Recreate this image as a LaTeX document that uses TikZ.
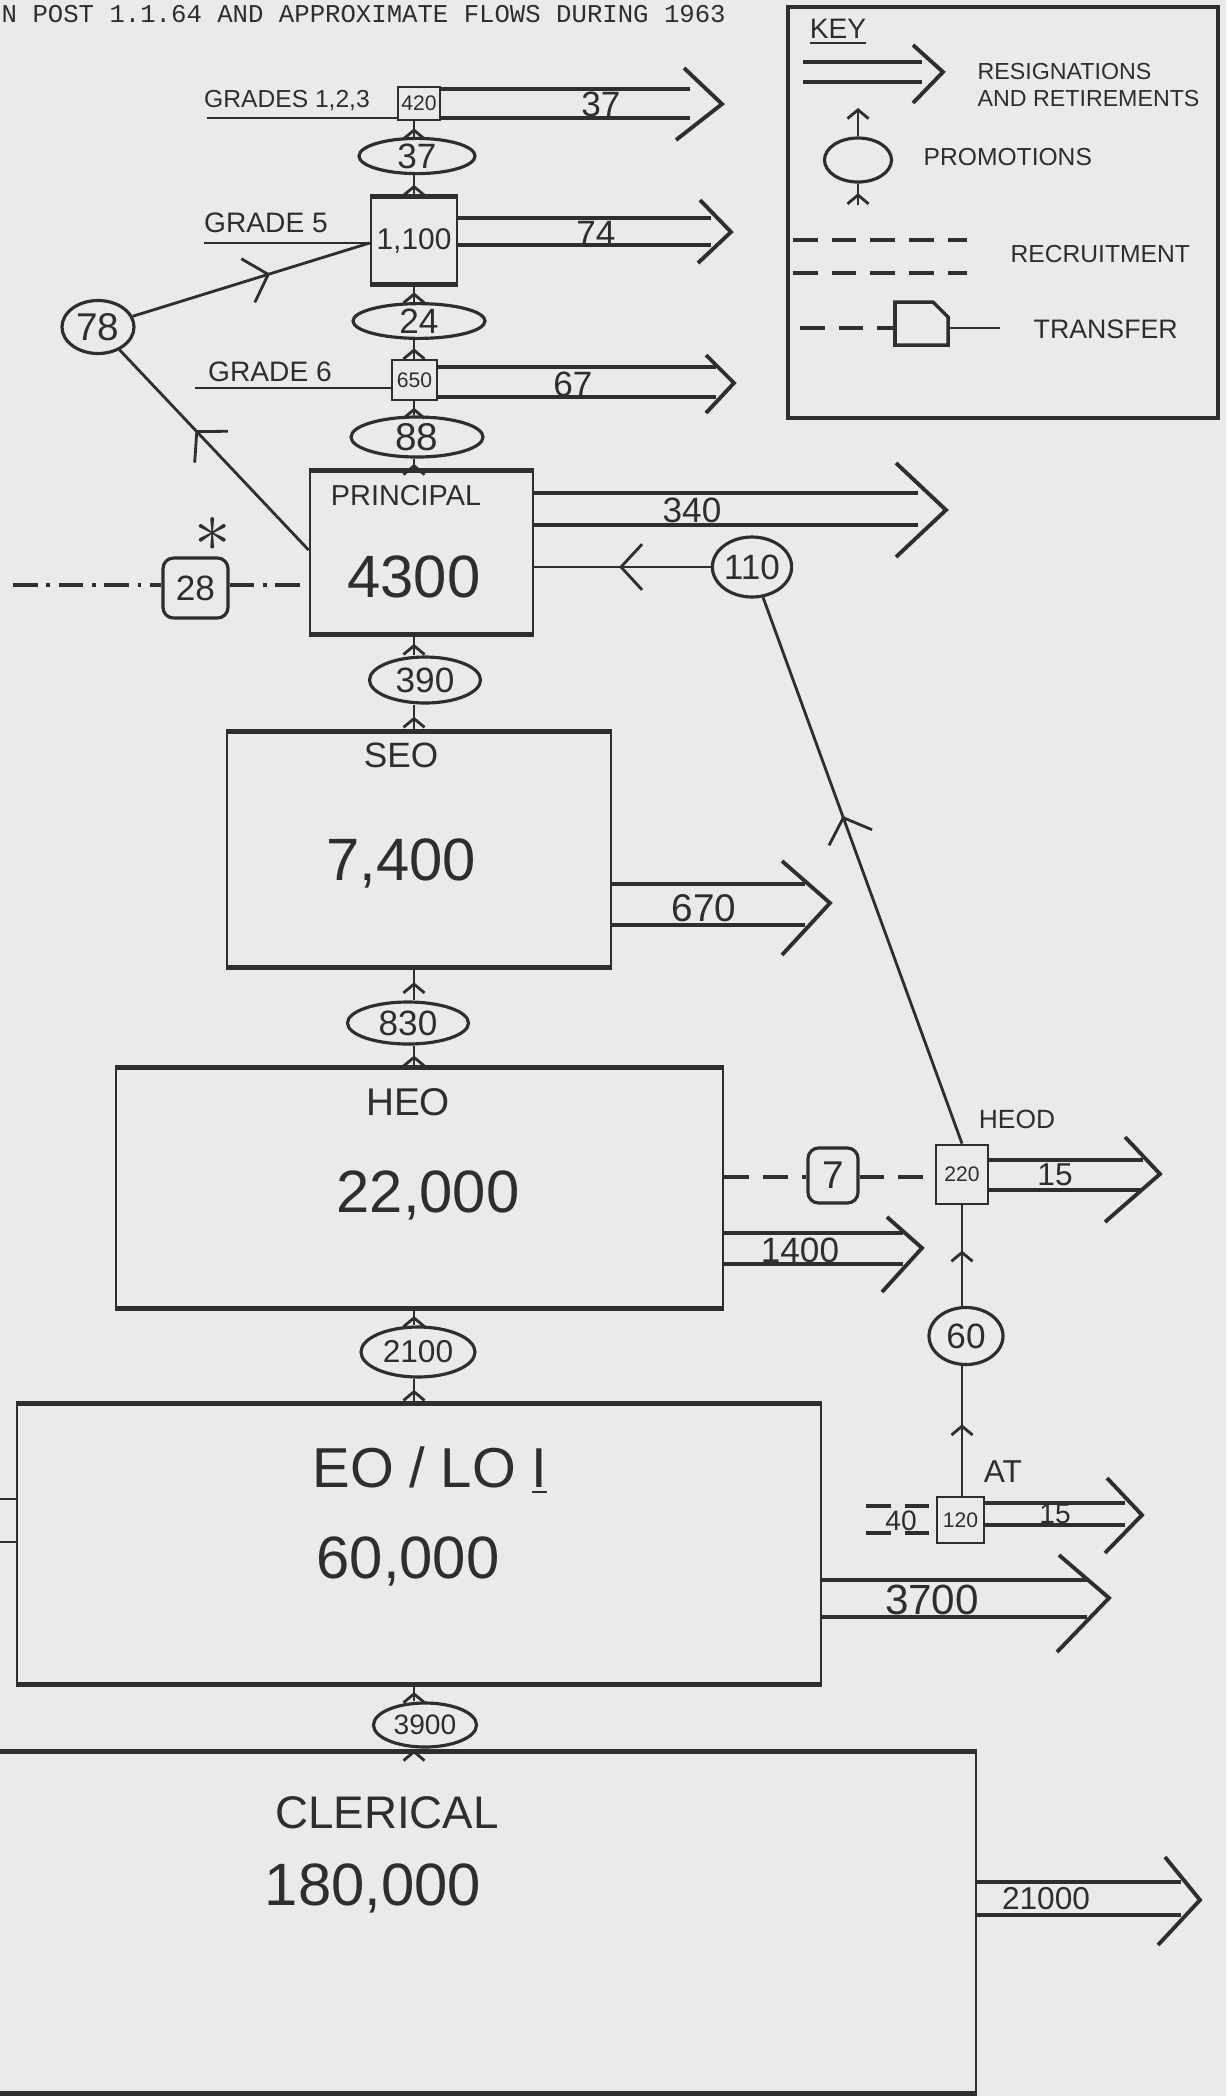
\documentclass[tikz,border=0pt]{standalone}
\usepackage{fontspec}
\setmainfont{Liberation Sans}
\newfontfamily\typewriter{Liberation Mono}
\usetikzlibrary{arrows.meta, shapes.geometric, decorations.markings, calc}
\definecolor{paper}{HTML}{EAEAEA}
\definecolor{ink}{HTML}{2E2E2E}
\newdimen\pxu \pxu=0.01cm

\begin{document}
\begin{tikzpicture}[x=0.01cm, y=-0.01cm, color=ink,
   box/.style={draw, line width=0.8pt, inner sep=0pt},
   promo/.style={draw, ellipse, line width=0.9pt, inner sep=0pt},
   tbox/.style={draw, rounded corners=3pt, line width=0.9pt, inner sep=0pt},
   hand/.style={inner sep=0pt},
   rise/.style={line width=0.8pt, postaction={decorate},
      decoration={markings, mark=at position 0.55 with {\arrow{Straight Barb[length=2.5pt,width=6pt]}}}},
   flowline/.style={line width=0.8pt, postaction={decorate},
      decoration={markings, mark=at position #1 with {\arrow{Straight Barb[length=6pt,width=13pt]}}}},
   resline/.style={line width=1.1pt},
   hbar/.style={line width=1.4pt},
   gline/.style={line width=0.8pt},
   recruit/.style={line width=0.9pt, dash pattern=on 7pt off 4pt},
   transfer/.style={line width=0.9pt, dash pattern=on 7pt off 2.5pt on 1pt off 2.5pt}]
   % Sheet
   \fill[paper] (0,0) rectangle (1226,2096);
   \useasboundingbox (0,0) rectangle (1226,2096);
   % Title line
   \node[hand, anchor=base west, font=\typewriter\fontsize{7.3}{9}\selectfont] (title) at (1,22)
      {N POST 1.1.64 AND APPROXIMATE FLOWS DURING 1963};
   % Promotion columns
   \coordinate (col) at (414,0);
   \coordinate (hcol) at (962,0);

   % Grades 1,2,3
   \node[box, minimum width=42\pxu, minimum height=33\pxu, font=\fontsize{6}{7}\selectfont] (g123) at (419,103.5) {420};
   \node[hand, font=\fontsize{7}{8}\selectfont] (g123T) at (287,100) {GRADES 1,2,3};
   \draw[gline] (207,118) -- (g123.west |- 0,118);
   % Grade 5
   \node[box, minimum width=86\pxu, minimum height=85\pxu, font=\fontsize{8.5}{10}\selectfont] (g5) at (414,240.5) {1,100};
   \node[hand, font=\fontsize{8}{9}\selectfont] (g5T) at (266,223) {GRADE 5};
   \draw[gline] (204,243) -- (g5.west |- 0,243);
   % Grade 6
   \node[box, minimum width=45\pxu, minimum height=40\pxu, font=\fontsize{6}{7}\selectfont] (g6) at (414.5,380) {650};
   \node[hand, font=\fontsize{8}{9}\selectfont] (g6T) at (270,372) {GRADE 6};
   \draw[gline] (195,388) -- (g6.west |- 0,388);

   % Principal
   \node[box, minimum width=223\pxu, minimum height=161\pxu] (prin) at (421.5,552.5) {};
   \node[hand, anchor=base, font=\fontsize{8.2}{10}\selectfont] (prinT) at (406,505) {PRINCIPAL};
   \node[hand, anchor=base, font=\fontsize{17}{20}\selectfont] (prinN) at (414,597) {4300};
   % SEO
   \node[box, minimum width=384\pxu, minimum height=233\pxu] (seo) at (419,849.5) {};
   \node[hand, anchor=base, font=\fontsize{10}{12}\selectfont] (seoT) at (401,767) {SEO};
   \node[hand, anchor=base, font=\fontsize{17}{20}\selectfont] (seoN) at (401,880) {7,400};
   % HEO
   \node[box, minimum width=607\pxu, minimum height=238\pxu] (heo) at (419.5,1188) {};
   \node[hand, anchor=base, font=\fontsize{11}{13}\selectfont] (heoT) at (408,1115) {HEO};
   \node[hand, anchor=base, font=\fontsize{17}{20}\selectfont] (heoN) at (428,1212) {22,000};
   % EO / LO I
   \node[box, minimum width=804\pxu, minimum height=278\pxu] (eo) at (419,1544) {};
   \node[hand, anchor=base, font=\fontsize{16}{19}\selectfont] (eoT) at (430,1487) {EO / LO \underline{I}};
   \node[hand, anchor=base, font=\fontsize{17}{20}\selectfont] (eoN) at (408,1578) {60,000};
   \draw[gline] (0,1499) -- (eo.west |- 0,1499);
   \draw[gline] (0,1542) -- (eo.west |- 0,1542);
   % Clerical, left side off the sheet
   \node[box, minimum width=996\pxu, minimum height=339\pxu] (cler) at (478,1922.5) {};
   \node[hand, anchor=base, font=\fontsize{13}{15}\selectfont] (clerT) at (387,1828) {CLERICAL};
   \node[hand, anchor=base, font=\fontsize{17}{20}\selectfont] (clerN) at (373,1905) {180,000};
   % Heavy top and bottom edges
   \draw[hbar] (g5.north west) -- (g5.north east) (g5.south west) -- (g5.south east);
   \draw[hbar] (prin.north west) -- (prin.north east) (prin.south west) -- (prin.south east);
   \draw[hbar] (seo.north west) -- (seo.north east) (seo.south west) -- (seo.south east);
   \draw[hbar] (heo.north west) -- (heo.north east) (heo.south west) -- (heo.south east);
   \draw[hbar] (eo.north west) -- (eo.north east) (eo.south west) -- (eo.south east);
   \draw[hbar] (cler.north west) -- (cler.north east) (cler.south west) -- (cler.south east);

   % HEOD and AT
   \node[box, minimum width=52\pxu, minimum height=59\pxu, font=\fontsize{6}{7}\selectfont] (heod) at (962,1174.5) {220};
   \node[hand, font=\fontsize{7.5}{9}\selectfont] (heodT) at (1017,1119) {HEOD};
   \node[box, minimum width=47\pxu, minimum height=46\pxu, font=\fontsize{6}{7}\selectfont] (atb) at (960.5,1520) {120};
   \node[hand, font=\fontsize{9}{11}\selectfont] (atT) at (1003,1472) {AT};

   % Promotions
   \node[promo, minimum width=116\pxu, minimum height=32\pxu, font=\fontsize{10}{12}\selectfont] (p37) at (417,156) {37};
   \node[promo, minimum width=132\pxu, minimum height=28\pxu, font=\fontsize{10}{12}\selectfont] (p24) at (419,321) {24};
   \node[promo, minimum width=132\pxu, minimum height=40\pxu, font=\fontsize{11}{13}\selectfont] (p88) at (417,437) {88};
   \node[promo, minimum width=111\pxu, minimum height=46\pxu, font=\fontsize{10}{12}\selectfont] (p390) at (425,680) {390};
   \node[promo, minimum width=121\pxu, minimum height=42\pxu, font=\fontsize{10}{12}\selectfont] (p830) at (408,1023) {830};
   \node[promo, minimum width=114\pxu, minimum height=50\pxu, font=\fontsize{9}{11}\selectfont] (p2100) at (418,1352) {2100};
   \node[promo, minimum width=103\pxu, minimum height=44\pxu, font=\fontsize{8}{10}\selectfont] (p3900) at (425,1725) {3900};
   \node[promo, minimum width=72\pxu, minimum height=53\pxu, font=\fontsize{11}{13}\selectfont] (p78) at (98,327) {78};
   \node[promo, minimum width=77\pxu, minimum height=60\pxu, font=\fontsize{10}{12}\selectfont] (p110) at (752,567) {110};
   \node[promo, minimum width=74\pxu, minimum height=57\pxu, font=\fontsize{10}{12}\selectfont] (p60) at (966,1336) {60};
   \draw[rise] (col |- g5.north) -- (col |- p37.south);
   \draw[rise] (col |- p37.north) -- (col |- g123.south);
   \draw[rise] (col |- g6.north) -- (col |- p24.south);
   \draw[rise] (col |- p24.north) -- (col |- g5.south);
   \draw[rise] (col |- prin.north) -- (col |- p88.south);
   \draw[rise] (col |- p88.north) -- (col |- g6.south);
   \draw[rise] (col |- seo.north) -- (col |- p390.south);
   \draw[rise] (col |- p390.north) -- (col |- prin.south);
   \draw[rise] (col |- heo.north) -- (col |- p830.south);
   \draw[rise] (col |- p830.north) -- (col |- seo.south);
   \draw[rise] (col |- eo.north) -- (col |- p2100.south);
   \draw[rise] (col |- p2100.north) -- (col |- heo.south);
   \draw[rise] (col |- cler.north) -- (col |- p3900.south);
   \draw[rise] (col |- p3900.north) -- (col |- eo.south);
   \draw[rise] (hcol |- atb.north) -- (hcol |- p60.south);
   \draw[rise] (hcol |- p60.north) -- (hcol |- heod.south);
   % Cross promotions
   \draw[flowline=0.6] (prin.west |- 0,550) -- (p78);
   \draw[flowline=0.58] (p78) -- (g5.west |- 0,243);
   \draw[flowline=0.52] (p110.west) -- (prin.east |- p110.west);
   \draw[flowline=0.6] (heod.north) -- (p110);

   % Transfers and recruitment
   \node[tbox, minimum width=65\pxu, minimum height=60\pxu, font=\fontsize{10}{12}\selectfont] (t28) at (195.5,588) {28};
   \node[hand, font=\fontsize{20}{24}\selectfont] (star) at (213,535) {$\ast$};
   \draw[transfer] (13,585) -- (t28.west |- 0,585);
   \draw[transfer] (t28.east |- 0,585) -- (prin.west |- 0,585);
   \node[tbox, minimum width=50\pxu, minimum height=55\pxu, font=\fontsize{11}{13}\selectfont] (t7) at (833,1175.5) {7};
   \draw[recruit] (heo.east |- 0,1177) -- (t7.west |- 0,1177);
   \draw[recruit] (t7.east |- 0,1177) -- (heod.west |- 0,1177);
   \node[hand, font=\fontsize{8}{10}\selectfont] (r40) at (901,1521) {40};
   \draw[recruit] (866,1506) -- (atb.west |- 0,1506);
   \draw[recruit] (866,1533) -- (atb.west |- 0,1533);

   % Resignations and retirements
   % 37 from grades 1,2,3
   \draw[resline] (g123.east |- 0,89) -- (690,89);
   \draw[resline] (g123.east |- 0,118) -- (690,118);
   \draw[resline] (684,68) -- (722,104) -- (676,140);
   \node[hand, font=\fontsize{10}{12}\selectfont] (o37) at (601,104) {37};
   % 74 from grade 5
   \draw[resline] (g5.east |- 0,218) -- (711,218);
   \draw[resline] (g5.east |- 0,245) -- (711,245);
   \draw[resline] (700,200) -- (731,232) -- (698,263);
   \node[hand, font=\fontsize{10}{12}\selectfont] (o74) at (596,233) {74};
   % 67 from grade 6
   \draw[resline] (g6.east |- 0,367) -- (716,367);
   \draw[resline] (g6.east |- 0,397) -- (716,397);
   \draw[resline] (706,355) -- (734,383) -- (706,413);
   \node[hand, font=\fontsize{10}{12}\selectfont] (o67) at (573,384) {67};
   % 340 from principal
   \draw[resline] (prin.east |- 0,493) -- (918,493);
   \draw[resline] (prin.east |- 0,525) -- (918,525);
   \draw[resline] (896,463) -- (946,510) -- (896,557);
   \node[hand, font=\fontsize{10}{12}\selectfont] (o340) at (692,510) {340};
   % 670 from SEO
   \draw[resline] (seo.east |- 0,884) -- (805,884);
   \draw[resline] (seo.east |- 0,925) -- (805,925);
   \draw[resline] (782,861) -- (830,903) -- (782,955);
   \node[hand, font=\fontsize{11}{13}\selectfont] (o670) at (704,908) {670};
   % 1400 from HEO
   \draw[resline] (heo.east |- 0,1233) -- (903,1233);
   \draw[resline] (heo.east |- 0,1264) -- (903,1264);
   \draw[resline] (887,1217) -- (922,1248) -- (882,1292);
   \node[hand, font=\fontsize{10}{12}\selectfont] (o1400) at (800,1250) {1400};
   % 15 from HEOD
   \draw[resline] (heod.east |- 0,1160) -- (1143,1160);
   \draw[resline] (heod.east |- 0,1190) -- (1143,1190);
   \draw[resline] (1125,1137) -- (1160,1174) -- (1105,1222);
   \node[hand, font=\fontsize{9}{11}\selectfont] (o15a) at (1055,1175) {15};
   % 15 from AT
   \draw[resline] (atb.east |- 0,1503) -- (1125,1503);
   \draw[resline] (atb.east |- 0,1525) -- (1125,1525);
   \draw[resline] (1107,1478) -- (1142,1515) -- (1105,1553);
   \node[hand, font=\fontsize{8}{10}\selectfont] (o15b) at (1055,1514) {15};
   % 3700 from EO / LO I
   \draw[resline] (eo.east |- 0,1580) -- (1087,1580);
   \draw[resline] (eo.east |- 0,1617) -- (1087,1617);
   \draw[resline] (1059,1555) -- (1109,1598) -- (1057,1652);
   \node[hand, font=\fontsize{12}{14}\selectfont] (o3700) at (932,1600) {3700};
   % 21000 from clerical
   \draw[resline] (cler.east |- 0,1882) -- (1181,1882);
   \draw[resline] (cler.east |- 0,1915) -- (1181,1915);
   \draw[resline] (1165,1857) -- (1200,1900) -- (1158,1945);
   \node[hand, font=\fontsize{9}{11}\selectfont] (o21000) at (1046,1899) {21000};

   % Key
   \node[box, line width=1pt, minimum width=430\pxu, minimum height=411\pxu] (key) at (1003,212.5) {};
   \node[hand, font=\fontsize{8}{10}\selectfont] (keyT) at (838,32) {\underline{KEY}};
   \draw[resline] (803,62) -- (922,62);
   \draw[resline] (803,82) -- (922,82);
   \draw[resline] (913,45) -- (943,72) -- (913,103);
   \node[hand, anchor=west, font=\fontsize{6.6}{8}\selectfont] (keyR1) at (977,72) {RESIGNATIONS};
   \node[hand, anchor=west, font=\fontsize{6.6}{8}\selectfont] (keyR2) at (977,99) {AND RETIREMENTS};
   \node[promo, minimum width=67\pxu, minimum height=44\pxu] (keyP) at (858,160) {};
   \draw[rise] (858,205) -- (keyP.south);
   \draw[gline, -{Straight Barb[length=2.5pt,width=6pt]}] (keyP.north) -- (858,108);
   \node[hand, anchor=west, font=\fontsize{7}{8}\selectfont] (keyPT) at (923,157) {PROMOTIONS};
   \draw[recruit] (793,240) -- (967,240);
   \draw[recruit] (793,273) -- (967,273);
   \node[hand, anchor=west, font=\fontsize{7}{8}\selectfont] (keyRT) at (1010,254) {RECRUITMENT};
   \draw[recruit] (800,328) -- (895,328);
   \draw[gline, line width=1pt] (895,302) -- (933,302) -- (948,317) -- (948,345) -- (895,345) -- cycle;
   \draw[gline] (948,328) -- (1000,328);
   \node[hand, anchor=west, font=\fontsize{7.6}{9}\selectfont] (keyTT) at (1033,329) {TRANSFER};
\end{tikzpicture}
\end{document}
